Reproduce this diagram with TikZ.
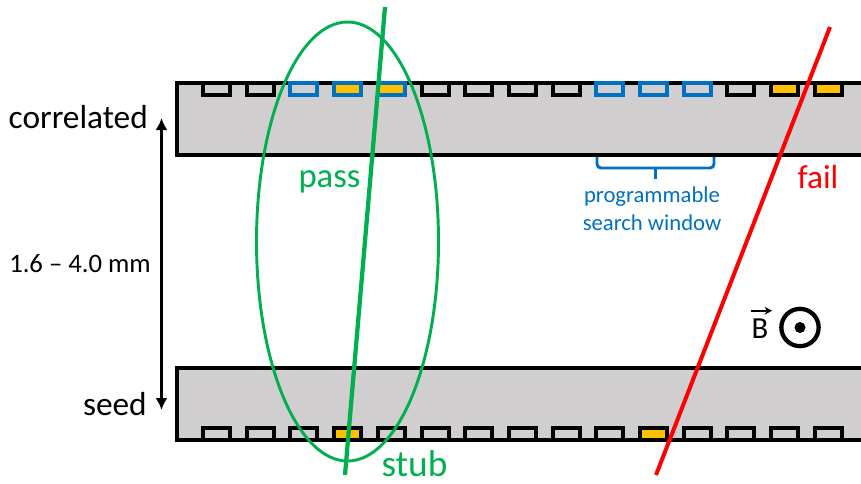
\documentclass[tikz,border=0pt]{standalone}
\usepackage{fontspec}
\setmainfont{Carlito}
\usepackage{tikz}
\usetikzlibrary{arrows.meta}
\definecolor{bargray}{HTML}{D0CECE}
\definecolor{hitorange}{HTML}{FFC000}
\definecolor{winblue}{HTML}{0070C0}
\definecolor{passgreen}{HTML}{00B050}
\definecolor{failred}{HTML}{FF0000}

\begin{document}
\begin{tikzpicture}[x=0.75pt, y=-0.75pt, inner sep=0pt,
    cell/.style={line width=3pt, fill=bargray},
    hit/.style={fill=hitorange},
    win/.style={draw=winblue}]
\useasboundingbox (0,0) rectangle (861,483);
\clip (0,0) rectangle (861,483);
\fill[bargray] (177,83) rectangle (880,155);
\draw[line width=3pt] (880,83) -- (177,83) -- (177,155) -- (880,155);
\fill[bargray] (177,367.5) rectangle (880,439.5);
\draw[line width=3pt] (880,367.5) -- (177,367.5) -- (177,439.5) -- (880,439.5);
\foreach \k in {0,...,14}
    \draw[cell] ({203+43.7*\k},83) rectangle +(27,12);
\foreach \k/\c in {2/bargray, 3/hitorange, 4/hitorange, 9/bargray, 10/bargray, 11/bargray}
    \draw[cell, win, fill=\c] ({203+43.7*\k},83) rectangle +(27,12);
\foreach \k in {13,14}
    \draw[cell, hit] ({203+43.7*\k},83) rectangle +(27,12);
\foreach \k in {0,...,14}
    \draw[cell] ({203+43.7*\k},427.5) rectangle +(27,12);
\foreach \k in {3,10}
    \draw[cell, hit] ({203+43.7*\k},427.5) rectangle +(27,12);
\draw[winblue, line width=2.2pt, rounded corners=3pt] (597,157) -- (597,168) -- (714,168) -- (714,157);
\draw[winblue, line width=2.2pt] (655.5,168) -- (655.5,179);
\node[winblue, font=\fontsize{17}{20.5}\selectfont, align=center, anchor=base] (window) at (652,230) {programmable\\search window};
\node[anchor=base east, font=\fontsize{25}{30}\selectfont] (corr) at (148,128) {correlated};
\node[anchor=base east, font=\fontsize{25}{30}\selectfont] (seed) at (147,415) {seed};
\node[font=\fontsize{20}{24}\selectfont] (gap) at (80,264) {1.6 – 4.0 mm};
\coordinate (gaptop) at (161.5,118);
\coordinate (gapbot) at (161.5,410);
\draw[{Latex[length=9pt,width=9pt]}-{Latex[length=9pt,width=9pt]}, line width=2.2pt] (gaptop) -- (gapbot);
\draw[passgreen, line width=2.2pt] (347.5,241.5) ellipse [x radius=91, y radius=219.5];
\coordinate (stubtop) at (385,7);
\coordinate (stubbot) at (345,475);
\draw[passgreen, line width=3.2pt] (stubbot) -- (stubtop);
\node[passgreen, anchor=base, font=\fontsize{26}{30}\selectfont] (pass) at (329.5,187) {pass};
\node[passgreen, anchor=base, text depth=0pt, font=\fontsize{28}{32}\selectfont] (stub) at (414.5,476.5) {stub};
\coordinate (failtop) at (830,27);
\coordinate (failbot) at (656,475);
\draw[failred, line width=3pt] (failbot) -- (failtop);
\node[failred, anchor=base, font=\fontsize{25}{30}\selectfont] (fail) at (818,188) {fail};
\node[anchor=base, font=\fontsize{23}{27}\selectfont] (field) at (760,338) {B};
\draw[-{Stealth[length=5.5pt,width=6pt]}, line width=1.6pt] ([yshift=5.5pt]field.north west) -- ([yshift=5.5pt, xshift=2.5pt]field.north east);
\node[circle, draw, line width=3.2pt, minimum size=28pt] (dot) at (800,327.5) {};
\fill (dot.center) circle (5.5);
\end{tikzpicture}
\end{document}
